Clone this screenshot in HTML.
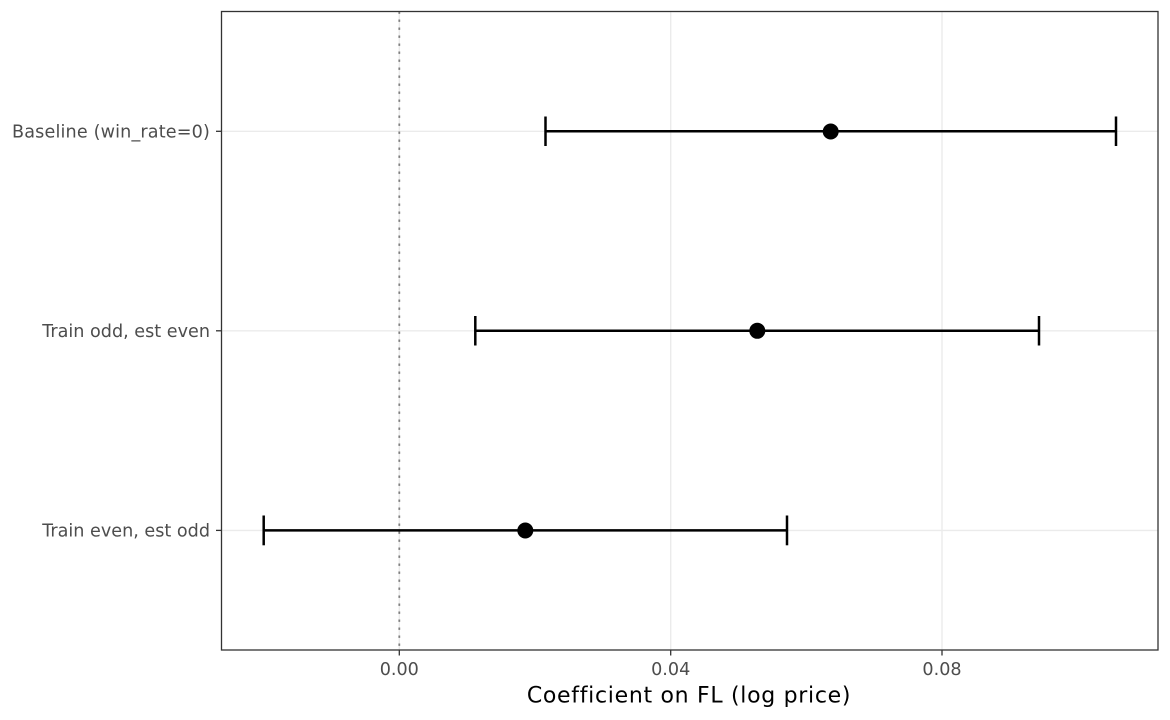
<!DOCTYPE html>
<html>
<head>
<meta charset="utf-8">
<style>
  html, body { margin: 0; padding: 0; background: #ffffff; }
  svg { display: block; }
  text { font-family: "DejaVu Sans", "Liberation Sans", sans-serif; }
</style>
</head>
<body>
<svg width="1170" height="720" viewBox="0 0 1170 720" xmlns="http://www.w3.org/2000/svg">
  <rect x="0" y="0" width="1170" height="720" fill="#ffffff"/>
  <rect x="221.5" y="11.5" width="936.5" height="638.5" fill="#ffffff"/>
  <g stroke="#EBEBEB" stroke-width="1.4">
    <line x1="399.3" y1="11.5" x2="399.3" y2="650"/>
    <line x1="670.7" y1="11.5" x2="670.7" y2="650"/>
    <line x1="942" y1="11.5" x2="942" y2="650"/>
    <line x1="221.5" y1="131.3" x2="1158" y2="131.3"/>
    <line x1="221.5" y1="330.8" x2="1158" y2="330.8"/>
    <line x1="221.5" y1="530.4" x2="1158" y2="530.4"/>
  </g>
  <line x1="399.3" y1="11.5" x2="399.3" y2="650" stroke="#7f7f7f" stroke-width="1.8" stroke-dasharray="2.4,5.6"/>
  <g stroke="#000000" stroke-width="2.5" fill="none">
    <line x1="545.5" y1="131.3" x2="1116" y2="131.3"/>
    <line x1="545.5" y1="116.5" x2="545.5" y2="146"/>
    <line x1="1116" y1="116.5" x2="1116" y2="146"/>

    <line x1="475.3" y1="330.8" x2="1039" y2="330.8"/>
    <line x1="475.3" y1="316" x2="475.3" y2="345.5"/>
    <line x1="1039" y1="316" x2="1039" y2="345.5"/>

    <line x1="263.7" y1="530.4" x2="787" y2="530.4"/>
    <line x1="263.7" y1="515.5" x2="263.7" y2="545.3"/>
    <line x1="787" y1="515.5" x2="787" y2="545.3"/>
  </g>
  <g fill="#000000">
    <circle cx="830.7" cy="131.5" r="8"/>
    <circle cx="757.3" cy="330.8" r="8"/>
    <circle cx="525.3" cy="530.5" r="8"/>
  </g>
  <rect x="221.5" y="11.5" width="936.5" height="638.5" fill="none" stroke="#333333" stroke-width="1.3"/>
  <g stroke="#333333" stroke-width="1.3">
    <line x1="216" y1="131.3" x2="221.5" y2="131.3"/>
    <line x1="216" y1="330.8" x2="221.5" y2="330.8"/>
    <line x1="216" y1="530.4" x2="221.5" y2="530.4"/>
    <line x1="399.3" y1="650" x2="399.3" y2="655.5"/>
    <line x1="670.7" y1="650" x2="670.7" y2="655.5"/>
    <line x1="942" y1="650" x2="942" y2="655.5"/>
  </g>
  <g fill="#4D4D4D" font-size="17.6" text-anchor="end">
    <text x="210" y="137.6" letter-spacing="0.15">Baseline (win_rate=0)</text>
    <text x="210" y="337.1">Train odd, est even</text>
    <text x="210" y="536.7">Train even, est odd</text>
  </g>
  <g fill="#4D4D4D" font-size="17.6" text-anchor="middle">
    <text x="399.3" y="675">0.00</text>
    <text x="670.7" y="675">0.04</text>
    <text x="942" y="675">0.08</text>
  </g>
  <text x="689" y="702.5" font-size="22" fill="#000000" text-anchor="middle" letter-spacing="0.7">Coefficient on FL (log price)</text>
</svg>
</body>
</html>
